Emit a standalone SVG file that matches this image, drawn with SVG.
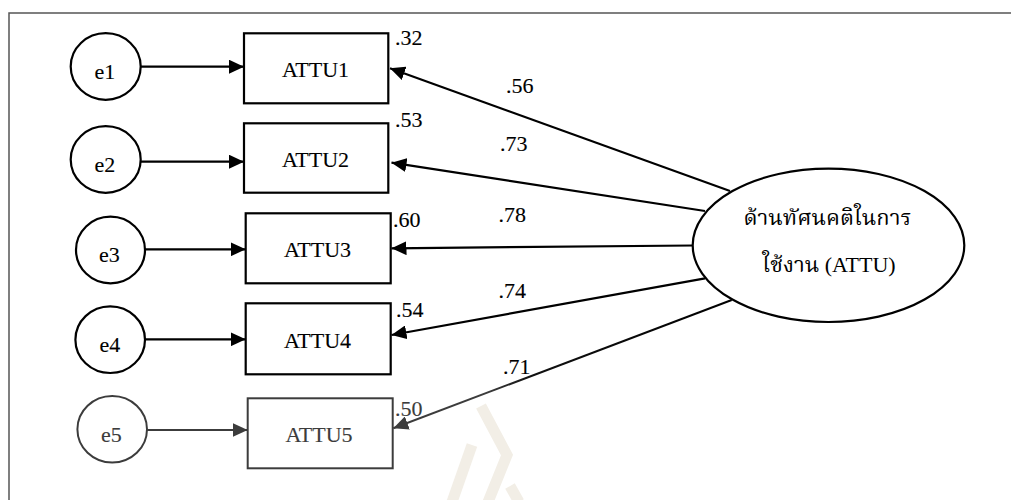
<svg xmlns="http://www.w3.org/2000/svg" width="1011" height="500" viewBox="0 0 1011 500">
  <style>
    .latin { font-family: "Liberation Serif", "Times New Roman", Tinos, "DejaVu Serif", serif; font-size: 22px; fill: #000; stroke: #000; stroke-width: 0.12; }
    .thai { font-family: "Liberation Serif", "Times New Roman", "Noto Serif Thai", "Noto Sans Thai", serif; font-size: 22px; fill: #000; }
    .mid { text-anchor: middle; }
    .shape { fill: #fff; stroke: #000; stroke-width: 2.2; }
    .dim .shape { stroke: #3c3c3c; stroke-width: 2; }
    .dim text { fill: #3c3c3c; stroke: #3c3c3c; }
    .link { fill: none; stroke: #000; stroke-width: 2.2; marker-end: url(#head); }
    .link.dim { stroke: #3c3c3c; stroke-width: 2; marker-end: url(#headDim); }
    .frame { fill: none; stroke: #555; stroke-width: 1.5; }
    .mark { fill: none; stroke: #f2eee6; stroke-width: 11; stroke-linejoin: miter; }
  </style>
  <defs>
    <marker id="head" markerUnits="userSpaceOnUse" markerWidth="16" markerHeight="14" refX="15" refY="7" orient="auto">
      <path d="M0,0 L15,7 L0,14 z" fill="#000"/>
    </marker>
    <marker id="headDim" markerUnits="userSpaceOnUse" markerWidth="16" markerHeight="14" refX="15" refY="7" orient="auto">
      <path d="M0,0 L15,7 L0,14 z" fill="#3c3c3c"/>
    </marker>
    <linearGradient id="fade" gradientUnits="userSpaceOnUse" x1="731.7" y1="300" x2="393.3" y2="428.3">
      <stop offset="0" stop-color="#000"/>
      <stop offset="0.6" stop-color="#111"/>
      <stop offset="0.72" stop-color="#3c3c3c"/>
      <stop offset="1" stop-color="#3c3c3c"/>
    </linearGradient>
  </defs>

  <rect width="1011" height="500" fill="#fff"/>

  <!-- faint background emblem -->
  <g id="emblem">
    <polyline class="mark" points="481,406 507,455 488,502"/>
    <polyline class="mark" points="472,445 452,502"/>
    <polyline class="mark" points="510,486 519,502"/>
  </g>

  <!-- outer frame (left and top edges) -->
  <path class="frame" d="M9,500 V13 H1011"/>

  <!-- connectors -->
  <g id="connectors">
    <line class="link" x1="140.7" y1="66.7" x2="244" y2="66.7"/>
    <line class="link" x1="140.7" y1="161.7" x2="244" y2="161.7"/>
    <line class="link" x1="145" y1="249.3" x2="245.7" y2="249.3"/>
    <line class="link" x1="145" y1="339.3" x2="245.7" y2="339.3"/>
    <line class="link dim" x1="147" y1="430" x2="247.7" y2="430"/>

    <line class="link" x1="730" y1="191" x2="390" y2="68.3"/>
    <line class="link" x1="705" y1="211" x2="391.5" y2="162.7"/>
    <line class="link" x1="693" y1="245.5" x2="391.5" y2="248.3"/>
    <line class="link" x1="705" y1="278.3" x2="391.5" y2="335"/>
    <line class="link dim" x1="731.7" y1="300" x2="393.3" y2="428.3" style="stroke:url(#fade)"/>
  </g>

  <!-- loading labels -->
  <g id="loadings" class="latin">
    <text x="506" y="93.3">.56</text>
    <text x="500" y="150.7">.73</text>
    <text x="498.5" y="221.7">.78</text>
    <text x="498.5" y="298.3">.74</text>
    <text x="503" y="374">.71</text>
  </g>

  <!-- squared multiple correlations -->
  <g id="r2" class="latin">
    <text x="395" y="45">.32</text>
    <text x="395" y="127">.53</text>
    <text x="393" y="226.7">.60</text>
    <text x="396" y="317.3">.54</text>
    <text x="395" y="416" style="fill:#3c3c3c;stroke:#3c3c3c">.50</text>
  </g>

  <!-- error terms -->
  <g id="e1"><ellipse class="shape" cx="105.7" cy="66.5" rx="35" ry="33.3"/><text class="latin mid" x="105" y="78.5">e1</text></g>
  <g id="e2"><ellipse class="shape" cx="105.7" cy="159.5" rx="35" ry="33.3"/><text class="latin mid" x="105" y="172">e2</text></g>
  <g id="e3"><ellipse class="shape" cx="110.5" cy="250" rx="34.5" ry="33.3"/><text class="latin mid" x="109.5" y="262">e3</text></g>
  <g id="e4"><ellipse class="shape" cx="110.2" cy="339.7" rx="34.8" ry="33.3"/><text class="latin mid" x="110" y="351.5">e4</text></g>
  <g id="e5" class="dim"><ellipse class="shape" cx="112.2" cy="429.2" rx="34.8" ry="33.3"/><text class="latin mid" x="111.5" y="441.5">e5</text></g>

  <!-- observed indicators -->
  <g id="ATTU1"><rect class="shape" x="244" y="33.3" width="144.3" height="70"/><text class="latin mid" x="315.5" y="77.3">ATTU1</text></g>
  <g id="ATTU2"><rect class="shape" x="244" y="123.3" width="144.3" height="69.4"/><text class="latin mid" x="315.5" y="167">ATTU2</text></g>
  <g id="ATTU3"><rect class="shape" x="245.7" y="213.3" width="145" height="70"/><text class="latin mid" x="317.5" y="257.3">ATTU3</text></g>
  <g id="ATTU4"><rect class="shape" x="245.7" y="303.3" width="145" height="71"/><text class="latin mid" x="317.5" y="348.3">ATTU4</text></g>
  <g id="ATTU5" class="dim"><rect class="shape" x="247.7" y="398.3" width="145" height="70"/><text class="latin mid" x="319" y="442">ATTU5</text></g>

  <!-- latent factor -->
  <g id="ATTU">
    <ellipse class="shape" cx="828.5" cy="245.3" rx="135.8" ry="76.7"/>
    <text class="thai mid" x="827.5" y="225">ด้านทัศนคติในการ</text>
    <text class="thai mid" x="829" y="271.7">ใช้งาน (ATTU)</text>
  </g>
</svg>
